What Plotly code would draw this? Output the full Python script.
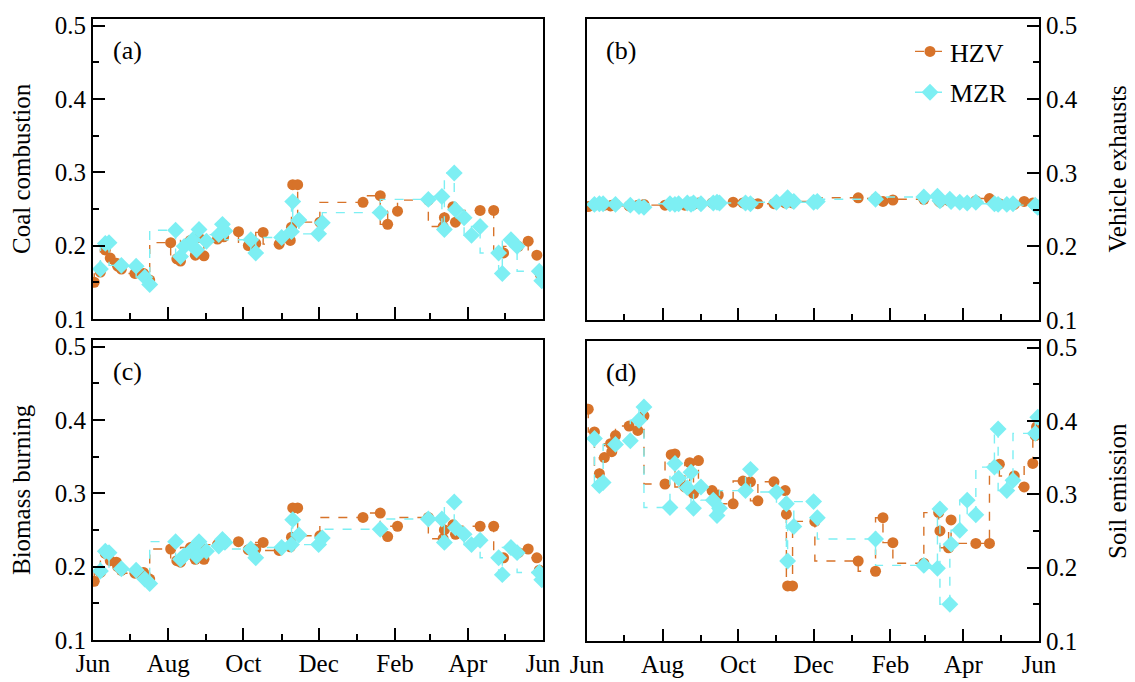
import plotly.graph_objects as go

# ---------------- data ----------------
hzv_dates = ["2013-06-02", "2013-06-07", "2013-06-11", "2013-06-15", "2013-06-20", "2013-06-21",
             "2013-06-24", "2013-07-05", "2013-07-12", "2013-07-17", "2013-08-03", "2013-08-08",
             "2013-08-11", "2013-08-19", "2013-08-23", "2013-08-26", "2013-08-30", "2013-09-10",
             "2013-09-15", "2013-09-27", "2013-10-05", "2013-10-11", "2013-10-17", "2013-10-30",
             "2013-11-08", "2013-11-09", "2013-11-10", "2013-11-14", "2013-12-02", "2014-01-06",
             "2014-01-20", "2014-01-26", "2014-02-03", "2014-02-28", "2014-03-12", "2014-03-13",
             "2014-03-20", "2014-03-22", "2014-04-11", "2014-04-22", "2014-04-30", "2014-05-12",
             "2014-05-20", "2014-05-27", "2014-05-29", "2014-05-30"]

mzr_dates = ["2013-06-07", "2013-06-11", "2013-06-14", "2013-06-24", "2013-07-06", "2013-07-13",
             "2013-07-17", "2013-08-07", "2013-08-11", "2013-08-14", "2013-08-21", "2013-08-24",
             "2013-08-26", "2013-09-01", "2013-09-11", "2013-09-14", "2013-09-16", "2013-10-07",
             "2013-10-11", "2013-11-01", "2013-11-09", "2013-11-10", "2013-11-15", "2013-12-01",
             "2013-12-04", "2014-01-20", "2014-02-28", "2014-03-11", "2014-03-13", "2014-03-21",
             "2014-03-22", "2014-03-29", "2014-04-04", "2014-04-11", "2014-04-26", "2014-04-29",
             "2014-05-06", "2014-05-11", "2014-05-29", "2014-05-31"]

# (a) Coal combustion
coal_hzv = [0.150, 0.164, 0.194, 0.183, 0.176, 0.172, 0.168, 0.162, 0.162, 0.153,
            0.204, 0.182, 0.179, 0.207, 0.187, 0.211, 0.186, 0.209, 0.212, 0.219,
            0.200, 0.203, 0.218, 0.202, 0.207, 0.225, 0.283, 0.283, 0.232, 0.259,
            0.268, 0.229, 0.247, 0.262, 0.226, 0.238, 0.253, 0.232, 0.248, 0.248,
            0.190, 0.199, 0.206, 0.187, 0.164, 0.160]
coal_mzr = [0.168, 0.203, 0.204, 0.173, 0.172, 0.157, 0.147, 0.221, 0.185, 0.199,
            0.208, 0.194, 0.222, 0.206, 0.215, 0.229, 0.220, 0.208, 0.190, 0.211,
            0.219, 0.260, 0.235, 0.216, 0.231, 0.245, 0.263, 0.267, 0.222, 0.299,
            0.249, 0.238, 0.214, 0.226, 0.190, 0.162, 0.208, 0.199, 0.165, 0.152]

# (b) Vehicle exhausts
vehicle_hzv = [0.254, 0.256, 0.257, 0.256, 0.255, 0.256, 0.257, 0.255, 0.256, 0.257,
               0.256, 0.258, 0.257, 0.256, 0.258, 0.257, 0.259, 0.259, 0.258, 0.260,
               0.259, 0.259, 0.258, 0.258, 0.259, 0.260, 0.260, 0.259, 0.261, 0.266,
               0.265, 0.261, 0.263, 0.264, 0.262, 0.260, 0.262, 0.261, 0.262, 0.265,
               0.258, 0.257, 0.261, 0.259, 0.257, 0.256]
vehicle_mzr = [0.257, 0.258, 0.258, 0.257, 0.256, 0.254, 0.253, 0.258, 0.257, 0.258,
               0.259, 0.257, 0.259, 0.258, 0.259, 0.260, 0.259, 0.259, 0.258, 0.260,
               0.261, 0.266, 0.261, 0.260, 0.261, 0.264, 0.267, 0.268, 0.262, 0.264,
               0.261, 0.260, 0.259, 0.260, 0.258, 0.257, 0.257, 0.258, 0.256, 0.253]

# (c) Biomass burning
biomass_hzv = [0.180, 0.192, 0.218, 0.208, 0.206, 0.200, 0.195, 0.191, 0.192, 0.183,
               0.224, 0.208, 0.206, 0.226, 0.210, 0.226, 0.210, 0.230, 0.231, 0.234,
               0.223, 0.224, 0.233, 0.222, 0.227, 0.240, 0.280, 0.280, 0.242, 0.267,
               0.273, 0.241, 0.255, 0.267, 0.238, 0.250, 0.257, 0.244, 0.255, 0.255,
               0.212, 0.219, 0.224, 0.212, 0.195, 0.193]
biomass_mzr = [0.194, 0.221, 0.219, 0.197, 0.195, 0.183, 0.177, 0.234, 0.210, 0.215,
               0.224, 0.214, 0.234, 0.221, 0.228, 0.237, 0.233, 0.224, 0.212, 0.226,
               0.230, 0.264, 0.243, 0.230, 0.239, 0.251, 0.265, 0.265, 0.233, 0.288,
               0.253, 0.244, 0.230, 0.236, 0.212, 0.189, 0.226, 0.219, 0.192, 0.182]

# (d) Soil emission
soil_hzv = [0.416, 0.385, 0.328, 0.350, 0.369, 0.358, 0.380, 0.393, 0.387, 0.407,
            0.314, 0.354, 0.355, 0.310, 0.343, 0.301, 0.346, 0.305, 0.299, 0.287,
            0.318, 0.317, 0.291, 0.317, 0.305, 0.273, 0.175, 0.175, 0.263, 0.209,
            0.195, 0.268, 0.234, 0.206, 0.275, 0.250, 0.227, 0.265, 0.233, 0.233,
            0.341, 0.325, 0.310, 0.342, 0.380, 0.392]
soil_mzr = [0.376, 0.312, 0.316, 0.368, 0.373, 0.401, 0.419, 0.282, 0.342, 0.322,
            0.309, 0.330, 0.281, 0.310, 0.292, 0.271, 0.281, 0.305, 0.334, 0.303,
            0.287, 0.209, 0.256, 0.290, 0.268, 0.239, 0.203, 0.199, 0.280, 0.150,
            0.232, 0.251, 0.292, 0.272, 0.337, 0.389, 0.305, 0.319, 0.383, 0.405]

panel_labels = ["(a)", "(b)", "(c)", "(d)"]
y_titles = ["Coal combustion", "Vehicle exhausts", "Biomass burning", "Soil emission"]
station_names = ["HZV", "MZR"]

# ---------------- style ----------------
W, H = 1135, 682
FONT = "Liberation Serif"
ORANGE = "#D7732A"
CYAN = "#7DEFF3"

# pixel boxes (left, right, top, bottom)
boxes = [(93, 543, 19, 319), (587, 1039, 19, 320), (93, 543, 340, 640), (587, 1039, 341, 641)]

fig = go.Figure()

panels = [(coal_hzv, coal_mzr), (vehicle_hzv, vehicle_mzr),
          (biomass_hzv, biomass_mzr), (soil_hzv, soil_mzr)]

for i, (h_vals, m_vals) in enumerate(panels):
    xa = "x" if i == 0 else f"x{i+1}"
    ya = "y" if i == 0 else f"y{i+1}"
    show = (i == 1)
    fig.add_trace(go.Scatter(
        x=hzv_dates, y=h_vals, name=station_names[0], xaxis=xa, yaxis=ya,
        mode="lines+markers", line=dict(shape="vh", color=ORANGE, width=1.4, dash="dash"),
        marker=dict(symbol="circle", size=11, color=ORANGE),
        showlegend=show, legendgroup="g1"))
    fig.add_trace(go.Scatter(
        x=mzr_dates, y=m_vals, name=station_names[1], xaxis=xa, yaxis=ya,
        mode="lines+markers", line=dict(shape="vh", color=CYAN, width=1.4, dash="dash"),
        marker=dict(symbol="diamond", size=13, color=CYAN),
        showlegend=show, legendgroup="g2"))

layout = dict(
    width=W, height=H, autosize=False,
    margin=dict(l=0, r=0, t=0, b=0, autoexpand=False),
    paper_bgcolor="white", plot_bgcolor="white",
    font=dict(family=FONT, size=25, color="black"),
    legend=dict(x=910 / W, y=1 - 28 / H, xanchor="left", yanchor="top",
                bgcolor="rgba(0,0,0,0)", font=dict(family=FONT, size=26),
                tracegroupgap=4),
    annotations=[],
)

for i, (l, r, t, b) in enumerate(boxes):
    xk = "xaxis" if i == 0 else f"xaxis{i+1}"
    yk = "yaxis" if i == 0 else f"yaxis{i+1}"
    ya_ref = "y" if i == 0 else f"y{i+1}"
    xa_ref = "x" if i == 0 else f"x{i+1}"
    bottom_row = i >= 2
    right_col = i % 2 == 1
    layout[xk] = dict(
        domain=[l / W, r / W], anchor=ya_ref, type="date", automargin=False,
        range=["2013-06-01", "2014-06-01"],
        tick0="2013-06-01", dtick="M2", tickformat="%b",
        ticks="inside", ticklen=12, tickwidth=2, tickcolor="black",
        minor=dict(ticks="inside", ticklen=6, tickwidth=2, tickcolor="black",
                   dtick="M1", tick0="2013-06-01"),
        showticklabels=bottom_row, showgrid=False, zeroline=False,
        showline=True, linewidth=2, linecolor="black", mirror=True,
        tickfont=dict(family=FONT, size=25),
    )
    layout[yk] = dict(
        domain=[1 - b / H, 1 - t / H], anchor=xa_ref, automargin=False,
        range=[0.0999, 0.509], tick0=0.1, dtick=0.1, tickformat=".1f",
        side="right" if right_col else "left",
        ticks="inside", ticklen=12, tickwidth=2, tickcolor="black",
        minor=dict(ticks="inside", ticklen=6, tickwidth=2, tickcolor="black", dtick=0.05),
        showgrid=False, zeroline=False,
        showline=True, linewidth=2, linecolor="black", mirror=True,
        tickfont=dict(family=FONT, size=25),
    )
    # panel label
    layout["annotations"].append(dict(
        text=panel_labels[i], xref="paper", yref="paper",
        x=(l + 34) / W, y=1 - (t + 31) / H, xanchor="center", yanchor="middle",
        showarrow=False, font=dict(family=FONT, size=26)))
    # y title
    tx = 21 if not right_col else 1117
    layout["annotations"].append(dict(
        text=y_titles[i], xref="paper", yref="paper",
        x=tx / W, y=1 - ((t + b) / 2) / H, xanchor="center", yanchor="middle",
        textangle=-90, showarrow=False, font=dict(family=FONT, size=25)))

fig.update_layout(**layout)
fig.write_html(
    "out.html",
    config={"displayModeBar": False},
    post_script=("document.body.style.margin='0';document.body.style.padding='0';"
                 "document.documentElement.style.overflow='hidden';"),
)
